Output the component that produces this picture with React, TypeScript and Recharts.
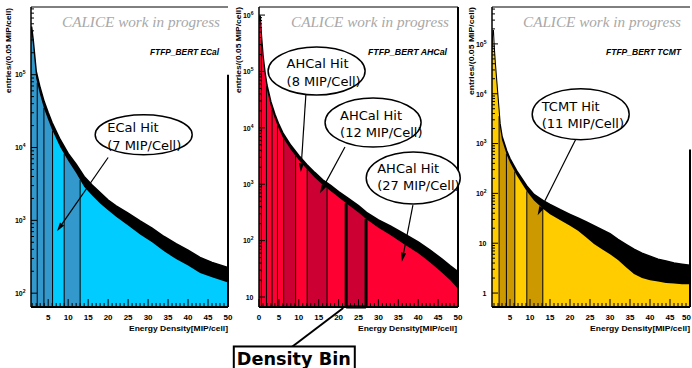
import React from "react"
import { ComposedChart, Area, XAxis, YAxis, ReferenceLine, ReferenceDot } from "recharts"

// ECal panel: black band = spread of the noisy histogram, fill = its lower edge
const ecalX = [0.7, 0.85, 1.25, 2, 3, 4, 5, 6, 8, 10, 12, 14, 16, 18, 20, 22, 25, 28, 31, 34, 37, 40, 43, 46, 50]
const ecalTop = [355000, 457000, 302000, 112000, 66000, 42700, 30200, 21900, 12900, 8300, 5900, 4000, 3050, 2400, 1900, 1580, 1260, 980, 780, 600, 480, 390, 310, 265, 225]
const ecalFill = [282000, 380000, 240000, 89000, 52500, 33900, 24000, 17400, 10200, 6600, 4470, 2900, 2200, 1700, 1380, 1120, 850, 640, 500, 375, 295, 240, 190, 165, 140]
const ecalCuts = [2.26, 3.93, 6.1, 9.0, 13.0]
const ecalEdges = [0.7, 6.1, 9.0, 13.0, 50]
const ecalYMajors = [100, 1000, 10000, 100000]

// AHCal panel
const ahcalX = [0, 0.3, 0.6, 1, 1.5, 2, 3, 4, 5, 6, 8, 10, 12, 14, 16, 18, 20, 22, 25, 27, 30, 33, 36, 40, 43, 46, 48, 50]
const ahcalTop = [871000, 977000, 437000, 195000, 97700, 57500, 28800, 17400, 11500, 8130, 4900, 3240, 2240, 1620, 1200, 955, 740, 590, 417, 316, 234, 182, 138, 95, 68, 47, 36, 28]
const ahcalFill = [724000, 813000, 363000, 162000, 81300, 47900, 24000, 14500, 9550, 6760, 4070, 2690, 1860, 1320, 980, 760, 590, 457, 316, 240, 170, 126, 91, 60, 41, 27, 20, 14]
const ahcalCuts = [0.6, 1.87, 3.28, 4.64, 6.2, 9.2, 12.1, 17.1]
const ahcalBinCuts = [21.9, 26.9]
const ahcalEdges = [0, 6.2, 9.2, 12.1, 17.1, 21.9, 26.9, 50]
const ahcalYMajors = [10, 100, 1000, 10000, 100000, 1000000]

// TCMT panel
const tcmtX = [0.5, 0.8, 1.0, 1.3, 1.7, 2.5, 3, 4.2, 5, 6.7, 9.2, 11, 13.4, 15, 17.6, 20, 22, 24, 26, 28, 30, 32, 34, 36, 38, 40, 42, 44, 46, 48, 50]
const tcmtTop = [79400, 190500, 89100, 39800, 15850, 2510, 1410, 708, 501, 282, 141, 95, 71, 60, 47, 38, 32, 27, 22.4, 18.6, 15.5, 12, 9.5, 7.6, 6.3, 5.5, 4.8, 4.4, 4.0, 3.8, 3.6]
const tcmtFill = [63100, 158500, 74100, 33100, 13200, 2090, 1175, 589, 417, 229, 110, 72, 48, 38, 29, 22.4, 17.8, 13.2, 9.6, 7.6, 6.0, 4.6, 3.3, 2.4, 2.0, 1.8, 1.7, 1.6, 1.55, 1.5, 1.5]
const tcmtCuts = [2.27, 4.1, 6.2, 9.2, 13.2]
const tcmtEdges = [0.5, 2.27, 6.2, 9.2, 13.2, 50]
const tcmtYMajors = [1, 10, 100, 1000, 10000, 100000]

type Note = { x: number; y: number; l1: string; l2: string; dx: number; dy1: number; dy2: number; rx: number; ry: number; from: [number, number]; to: [number, number] }

const ecalNotes: Note[] = [
  { x: 28.9, y: 15000, l1: "ECal Hit", l2: "(7 MIP/Cell)", dx: -36.5, dy1: -3, dy2: 15, rx: 48.5, ry: 20, from: [20.0, 7300], to: [7.2, 706] },
]
const ahcalNotes: Note[] = [
  { x: 14.47, y: 101600, l1: "AHCal Hit", l2: "(8 MIP/Cell)", dx: -30, dy1: -3, dy2: 14.5, rx: 48.5, ry: 24, from: [11.77, 38200], to: [10.51, 1644] },
  { x: 28.66, y: 12420, l1: "AHCal Hit", l2: "(12 MIP/Cell)", dx: -33, dy1: -2.5, dy2: 14, rx: 48, ry: 24.5, from: [21.6, 4571], to: [15.3, 690] },
  { x: 38.75, y: 1288, l1: "AHCal Hit", l2: "(27 MIP/Cell)", dx: -36, dy1: -5, dy2: 12, rx: 47, ry: 26, from: [38.67, 428], to: [35.9, 42.3] },
]
const tcmtNotes: Note[] = [
  { x: 22.67, y: 3890, l1: "TCMT Hit", l2: "(11 MIP/Cell)", dx: -39, dy1: -3, dy2: 14, rx: 48.5, ry: 25.5, from: [21.41, 1202], to: [11.91, 36.3] },
]

const SANS = "'Liberation Sans', Arial, sans-serif"
const DEJAVU = "'DejaVu Sans', sans-serif"

type Spec = {
  id: string
  left: number
  width: number
  yAxisW: number
  plotW: number
  x: number[]
  top: number[]
  fill: number[]
  xDomain: [number, number]
  yDomain: [number, number]
  yMajors: number[]
  xTicks: number[]
  edges: number[]
  colors: string[]
  cuts: number[]
  rightTop: number
  notes: Note[]
  binCuts?: number[]
}

const minorX = (from: number) => Array.from({ length: 51 - from }, (_, i) => i + from)

const specs: Spec[] = [
  {
    id: "ecal", left: 0, width: 234, yAxisW: 31, plotW: 197,
    x: ecalX, top: ecalTop, fill: ecalFill,
    xDomain: [0.7, 50], yDomain: [64.6, 850000], yMajors: ecalYMajors, xTicks: minorX(1),
    edges: ecalEdges, colors: ["#3399cc", "#00ccff", "#3399cc", "#00ccff"],
    cuts: ecalCuts, rightTop: 100000, notes: ecalNotes,
  },
  {
    id: "ahcal", left: 230, width: 236, yAxisW: 29, plotW: 199,
    x: ahcalX, top: ahcalTop, fill: ahcalFill,
    xDomain: [0, 50], yDomain: [6.65, 1390000], yMajors: ahcalYMajors, xTicks: minorX(0),
    edges: ahcalEdges, colors: ["#ff0033", "#cc0033", "#ff0033", "#cc0033", "#ff0033", "#cc0033", "#ff0033"],
    cuts: ahcalCuts, rightTop: 1390000, notes: ahcalNotes, binCuts: ahcalBinCuts,
  },
  {
    id: "tcmt", left: 460, width: 232, yAxisW: 32, plotW: 198,
    x: tcmtX, top: tcmtTop, fill: tcmtFill,
    xDomain: [0.5, 50], yDomain: [0.525, 550000], yMajors: tcmtYMajors, xTicks: minorX(1),
    edges: tcmtEdges, colors: ["#ffcc00", "#cc9900", "#ffcc00", "#cc9900", "#ffcc00"],
    cuts: tcmtCuts, rightTop: 760, notes: tcmtNotes,
  },
]

// value of the fill edge at v, log-linear between read points
function fillAt(xs: number[], ys: number[], v: number) {
  for (let i = 0; i < xs.length - 1; i++) {
    if (v >= xs[i] && v <= xs[i + 1]) {
      const t = (v - xs[i]) / (xs[i + 1] - xs[i])
      const a = Math.log10(ys[i]), b = Math.log10(ys[i + 1])
      return Math.pow(10, a + t * (b - a))
    }
  }
  return ys[ys.length - 1]
}

function XTick(props: any) {
  const { x, y, payload, maxX } = props
  const v = payload.value
  const major = v % 5 === 0
  // keep the last label inside the page
  const clamp = x + 5 > maxX
  return (
    <g>
      <line x1={x} y1={y} x2={x} y2={y - (major ? 8 : 4)} stroke="#000" strokeWidth={1} />
      {major && (
        <text
          x={clamp ? maxX : x}
          y={y + 12.5}
          textAnchor={clamp ? "end" : "middle"}
          fontSize={8}
          fontWeight="bold"
          fontFamily={SANS}
          fill="#000"
        >
          {v}
        </text>
      )}
    </g>
  )
}

function YTick(props: any) {
  const { x, y, payload } = props
  const lv = Math.log10(payload.value)
  const e = Math.round(lv)
  const major = Math.abs(lv - e) < 1e-6
  return (
    <g>
      <line x1={x} y1={y} x2={x + (major ? 6 : 3)} y2={y} stroke="#000" strokeWidth={1} />
      {major && (
        <text x={x - 5.5} y={y + 2.8} textAnchor="end" fontSize={7} fontWeight="bold" fontFamily={SANS} fill="#000">
          {e === 0 ? "1" : e === 1 ? "10" : (
            <>
              10<tspan dy={-3} fontSize={5}>{e}</tspan>
            </>
          )}
        </text>
      )}
    </g>
  )
}

function Arrow(p: any) {
  const { x1, y1, x2, y2 } = p
  const ang = Math.atan2(y2 - y1, x2 - x1)
  const L = 9, W = 2.6
  const bx = x2 - L * Math.cos(ang), by = y2 - L * Math.sin(ang)
  const px = -Math.sin(ang) * W, py = Math.cos(ang) * W
  return (
    <g>
      <line x1={x1} y1={y1} x2={bx} y2={by} stroke="#000" strokeWidth={1.2} />
      <path d={`M${x2},${y2}L${bx + px},${by + py}L${bx - px},${by - py}Z`} fill="#000" />
    </g>
  )
}

function Panel({ s }: { s: Spec }) {
  const data = s.x.map((v, i) => ({ x: v, top: s.top[i], fill: s.fill[i] }))
  const [yMin, yMax] = s.yDomain
  const x0 = s.x[0], xN = s.x[s.x.length - 1]
  const off = (v: number) => (v - x0) / (xN - x0)
  const yTicks = s.yMajors
    .flatMap((m) => [1, 2, 3, 4, 5, 6, 7, 8, 9].map((k) => k * m))
    .filter((v) => v >= yMin && v <= yMax)
  const gid = `grad-${s.id}`

  return (
    <div style={{ position: "absolute", left: s.left, top: 0 }}>
      <ComposedChart
        width={s.width}
        height={368}
        data={data}
        margin={{ top: 7, right: s.width - s.yAxisW - s.plotW, bottom: 41, left: 0 }}
      >
        <defs>
          <linearGradient id={gid} x1="0" y1="0" x2="1" y2="0">
            {s.colors.flatMap((c, i) => [
              <stop key={`a${i}`} offset={off(s.edges[i])} stopColor={c} />,
              <stop key={`b${i}`} offset={off(s.edges[i + 1])} stopColor={c} />,
            ])}
          </linearGradient>
        </defs>
        <Area
          dataKey="top"
          type="linear"
          baseValue={yMin}
          fill="#000"
          fillOpacity={1}
          stroke="#000"
          strokeWidth={1.5}
          dot={false}
          activeDot={false}
          isAnimationActive={false}
        />
        <Area
          dataKey="fill"
          type="linear"
          baseValue={yMin}
          fill={`url(#${gid})`}
          fillOpacity={1}
          stroke="none"
          dot={false}
          activeDot={false}
          isAnimationActive={false}
        />
        {s.cuts.map((c) => (
          <ReferenceLine
            key={`c${c}`}
            segment={[{ x: c, y: yMin }, { x: c, y: fillAt(s.x, s.fill, c) }]}
            stroke="#000"
            strokeWidth={1}
            ifOverflow="visible"
          />
        ))}
        {s.binCuts && s.binCuts.map((c) => (
          <ReferenceLine
            key={`b${c}`}
            segment={[{ x: c, y: yMin }, { x: c, y: fillAt(s.x, s.fill, c) }]}
            stroke="#000"
            strokeWidth={3}
            ifOverflow="visible"
          />
        ))}
        {s.binCuts && (
          <ReferenceLine
            segment={[{ x: s.binCuts[0], y: yMin }, { x: s.binCuts[1], y: yMin }]}
            stroke="#000"
            strokeWidth={3}
            ifOverflow="visible"
          />
        )}
        <ReferenceLine y={yMax} stroke="#000" strokeWidth={1} ifOverflow="visible" />
        <ReferenceLine
          segment={[{ x: s.xDomain[1], y: yMin }, { x: s.xDomain[1], y: s.rightTop }]}
          stroke="#000"
          strokeWidth={2}
          ifOverflow="visible"
        />
        <XAxis
          type="number"
          dataKey="x"
          domain={s.xDomain}
          allowDataOverflow
          ticks={s.xTicks}
          interval={0}
          tickSize={0}
          tickMargin={0}
          tickLine={false}
          tick={<XTick maxX={s.width - 1} />}
          axisLine={{ stroke: "#000", strokeWidth: 2 }}
          height={20}
        />
        <YAxis
          type="number"
          scale="log"
          domain={s.yDomain}
          allowDataOverflow
          ticks={yTicks}
          interval={0}
          tickSize={0}
          tickMargin={0}
          tickLine={false}
          tick={<YTick />}
          axisLine={{ stroke: "#000", strokeWidth: 1.5 }}
          width={s.yAxisW}
        />
        {s.notes.map((n, i) => (
          <ReferenceLine
            key={`ar${i}`}
            segment={[{ x: n.from[0], y: n.from[1] }, { x: n.to[0], y: n.to[1] }]}
            ifOverflow="visible"
            shape={(p: any) => <Arrow {...p} />}
          />
        ))}
        {s.notes.map((n, i) => (
          <ReferenceDot
            key={`n${i}`}
            x={n.x}
            y={n.y}
            r={1}
            ifOverflow="visible"
            shape={(p: any) => (
              <g>
                <ellipse cx={p.cx} cy={p.cy} rx={n.rx} ry={n.ry} fill="#fff" stroke="#000" strokeWidth={1.5} />
                <text x={p.cx + n.dx} y={p.cy + n.dy1} fontSize={13} fontFamily={DEJAVU} fill="#000">{n.l1}</text>
                <text x={p.cx + n.dx} y={p.cy + n.dy2} fontSize={13} fontFamily={DEJAVU} fill="#000">{n.l2}</text>
              </g>
            )}
          />
        ))}
        {s.binCuts && (
          <ReferenceLine
            segment={[{ x: 8.24, y: 1.3 }, { x: 21.17, y: 6.38 }]}
            stroke="#000"
            strokeWidth={2}
            ifOverflow="visible"
          />
        )}
        {s.binCuts && (
          <ReferenceDot
            x={8.24}
            y={1.3}
            r={1}
            ifOverflow="visible"
            shape={(p: any) => (
              <g>
                <rect x={p.cx - 58} y={p.cy - 0.5} width={121} height={24} fill="#fff" stroke="#000" strokeWidth={2} />
                <text x={p.cx - 55} y={p.cy + 18.5} fontSize={18} fontWeight="bold" fontFamily={DEJAVU} fill="#000" textLength={114} lengthAdjust="spacingAndGlyphs">
                  Density Bin
                </text>
              </g>
            )}
          />
        )}
      </ComposedChart>
    </div>
  )
}

const panelTexts = [
  { calEnd: 220, ftfp: "FTFP_BERT ECal", ftfpX: 150, ftfpLen: 69, yTx: 10.5, yTop: 8, yLen: 85, xtX: 129, xtLen: 99 },
  { calEnd: 449, ftfp: "FTFP_BERT AHCal", ftfpX: 368, ftfpLen: 79, yTx: 240.5, yTop: 7, yLen: 86, xtX: 358, xtLen: 99 },
  { calEnd: 681, ftfp: "FTFP_BERT TCMT", ftfpX: 606, ftfpLen: 75, yTx: 473.5, yTop: 7, yLen: 88, xtX: 590, xtLen: 100 },
]

export default function App() {
  return (
    <div style={{ position: "absolute", left: 0, top: 0, width: 692, height: 368, background: "#fff", overflow: "hidden" }}>
      {specs.map((s) => (
        <Panel key={s.id} s={s} />
      ))}
      <svg width={692} height={368} style={{ position: "absolute", left: 0, top: 0, pointerEvents: "none" }}>
        {panelTexts.map((t, i) => (
          <g key={i}>
            <text x={t.calEnd} y={26.5} textAnchor="end" fontSize={15} fontStyle="italic" fontFamily="'Liberation Serif', serif" fill="#a8a8a8" textLength={158} lengthAdjust="spacingAndGlyphs">
              CALICE work in progress
            </text>
            <text x={t.ftfpX} y={55} fontSize={8.5} fontStyle="italic" fontWeight="bold" fontFamily={SANS} fill="#000" textLength={t.ftfpLen} lengthAdjust="spacingAndGlyphs">
              {t.ftfp}
            </text>
            <text transform={`translate(${t.yTx},${t.yTop}) rotate(-90)`} textAnchor="end" fontSize={7.5} fontWeight="bold" fontFamily={SANS} fill="#000" textLength={t.yLen} lengthAdjust="spacingAndGlyphs">
              entries/(0.05 MIP/cell)
            </text>
            <text x={t.xtX} y={330.5} fontSize={7.5} fontWeight="bold" fontFamily={SANS} fill="#000" textLength={t.xtLen} lengthAdjust="spacingAndGlyphs">
              Energy Density[MIP/cell]
            </text>
          </g>
        ))}
      </svg>
    </div>
  )
}
